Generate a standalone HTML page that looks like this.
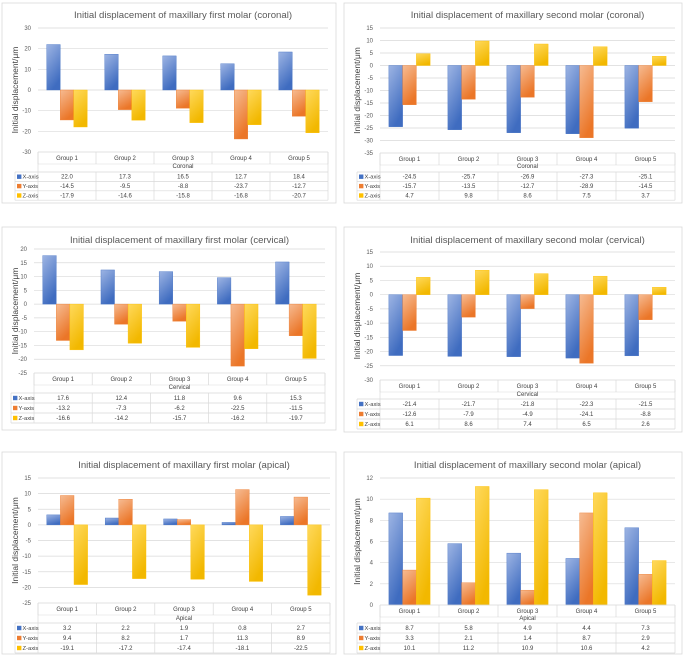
<!DOCTYPE html>
<html><head><meta charset="utf-8"><style>
html,body{margin:0;padding:0;background:#fff;}
svg{display:block;font-family:"Liberation Sans",sans-serif;}
</style></head><body>
<svg id="fig" width="685" height="659" viewBox="0 0 685 659" xmlns="http://www.w3.org/2000/svg">
<defs>
<linearGradient id="gX" x1="0" y1="0" x2="0.4" y2="1"><stop offset="0" stop-color="#9db4e3"/><stop offset="1" stop-color="#3f6cc0"/></linearGradient>
<linearGradient id="gY" x1="0" y1="0" x2="0.4" y2="1"><stop offset="0" stop-color="#f6bb92"/><stop offset="1" stop-color="#eb7628"/></linearGradient>
<linearGradient id="gZ" x1="0" y1="0" x2="0.4" y2="1"><stop offset="0" stop-color="#ffd95c"/><stop offset="1" stop-color="#f2b800"/></linearGradient>
</defs>
</svg>
<script>
const groups = ['Group 1','Group 2','Group 3','Group 4','Group 5'];
const seriesNames = ['X-axis','Y-axis','Z-axis'];
// Panel 1: first molar coronal
const p1X = [22.0,17.3,16.5,12.7,18.4];
const p1Y = [-14.5,-9.5,-8.8,-23.7,-12.7];
const p1Z = [-17.9,-14.6,-15.8,-16.8,-20.7];
const p1Ticks = [30,20,10,0,-10,-20,-30];
// Panel 2: second molar coronal
const p2X = [-24.5,-25.7,-26.9,-27.3,-25.1];
const p2Y = [-15.7,-13.5,-12.7,-28.9,-14.5];
const p2Z = [4.7,9.8,8.6,7.5,3.7];
const p2Ticks = [15,10,5,0,-5,-10,-15,-20,-25,-30,-35];
// Panel 3: first molar cervical
const p3X = [17.6,12.4,11.8,9.6,15.3];
const p3Y = [-13.2,-7.3,-6.2,-22.5,-11.5];
const p3Z = [-16.6,-14.2,-15.7,-16.2,-19.7];
const p3Ticks = [20,15,10,5,0,-5,-10,-15,-20,-25];
// Panel 4: second molar cervical
const p4X = [-21.4,-21.7,-21.8,-22.3,-21.5];
const p4Y = [-12.6,-7.9,-4.9,-24.1,-8.8];
const p4Z = [6.1,8.6,7.4,6.5,2.6];
const p4Ticks = [15,10,5,0,-5,-10,-15,-20,-25,-30];
// Panel 5: first molar apical
const p5X = [3.2,2.2,1.9,0.8,2.7];
const p5Y = [9.4,8.2,1.7,11.3,8.9];
const p5Z = [-19.1,-17.2,-17.4,-18.1,-22.5];
const p5Ticks = [15,10,5,0,-5,-10,-15,-20,-25];
// Panel 6: second molar apical
const p6X = [8.7,5.8,4.9,4.4,7.3];
const p6Y = [3.3,2.1,1.4,8.7,2.9];
const p6Z = [10.1,11.2,10.9,10.6,4.2];
const p6Ticks = [12,10,8,6,4,2,0];

const panels = [
 {name:'first-molar-coronal',title:'Initial displacement of maxillary first molar (coronal)',cat:'Coronal',s:[p1X,p1Y,p1Z],ticks:p1Ticks,b:[2,3,334,200],ty:18,yT:28,yB:152,pL:38,pR:328,catY:168,rT:172,rH:9.4},
 {name:'second-molar-coronal',title:'Initial displacement of maxillary second molar (coronal)',cat:'Coronal',s:[p2X,p2Y,p2Z],ticks:p2Ticks,b:[344,3,338,200],ty:18,yT:28,yB:153,pL:380,pR:675,catY:168,rT:172,rH:9.4},
 {name:'first-molar-cervical',title:'Initial displacement of maxillary first molar (cervical)',cat:'Cervical',s:[p3X,p3Y,p3Z],ticks:p3Ticks,b:[2,227,334,203],ty:243,yT:249,yB:373,pL:34,pR:325,catY:389,rT:393,rH:10},
 {name:'second-molar-cervical',title:'Initial displacement of maxillary second molar (cervical)',cat:'Cervical',s:[p4X,p4Y,p4Z],ticks:p4Ticks,b:[344,227,338,205],ty:243,yT:252,yB:380,pL:380,pR:675,catY:396,rT:399,rH:10},
 {name:'first-molar-apical',title:'Initial displacement of maxillary first molar (apical)',cat:'Apical',s:[p5X,p5Y,p5Z],ticks:p5Ticks,b:[2,452,334,202],ty:468,yT:478,yB:603,pL:38,pR:330,catY:620,rT:623,rH:10},
 {name:'second-molar-apical',title:'Initial displacement of maxillary second molar (apical)',cat:'Apical',s:[p6X,p6Y,p6Z],ticks:p6Ticks,b:[344,452,338,202],ty:468,yT:478,yB:605,pL:380,pR:675,catY:620,rT:623,rH:10}
];
const fills = ['url(#gX)','url(#gY)','url(#gZ)'];
const swatch = ['#4472c4','#ed7d31','#ffc000'];
const NS = 'http://www.w3.org/2000/svg';
const svg = document.getElementById('fig');
function mk(tag, attrs, parent, text){
  const e = document.createElementNS(NS, tag);
  for (const k in attrs) e.setAttribute(k, attrs[k]);
  if (text !== undefined) e.textContent = text;
  parent.appendChild(e);
  return e;
}
panels.forEach(p => {
  const g = mk('g', {}, svg);
  
  
  const border = mk('rect', {x:p.b[0], y:p.b[1], width:p.b[2], height:p.b[3], fill:'#fff', stroke:'#d9d9d9', 'stroke-width':0.8}, g);
  
  
  const cx = (p.pL + p.pR) / 2;
  const t = mk('text', {x:cx, y:p.ty, 'font-size':9.6, fill:'#595959', 'text-anchor':'middle'}, g, p.title);
  
  
  const vMax = p.ticks[0], vMin = p.ticks[p.ticks.length-1];
  const yS = v => p.yT + (vMax - v) / (vMax - vMin) * (p.yB - p.yT);
  p.ticks.forEach(v => {
    const y = yS(v);
    if (v !== vMin) {
      const gl = mk('line', {x1:p.pL, x2:p.pR, y1:y, y2:y, stroke:'#d9d9d9', 'stroke-width':0.7}, g);
      
      
    }
    const tl = mk('text', {x:p.pL-7, y:y+2, 'font-size':6, fill:'#595959', 'text-anchor':'end'}, g, String(v));
    
    
  });
  const yt = mk('text', {x:0, y:0, 'font-size':8.5, fill:'#404040', 'text-anchor':'middle', transform:'translate('+(p.b[0]+16)+','+((p.yT+p.yB)/2)+') rotate(-90)'}, g, 'Initial displacement/μm');
  
  
  const gw = (p.pR - p.pL) / groups.length;
  const bw = gw * 0.233;
  const y0 = yS(0);
  p.s.forEach((vals, si) => {
    vals.forEach((v, gi) => {
      const x = p.pL + gi*gw + gw/2 - 1.5*bw + si*bw;
      const y = Math.min(yS(v), y0), h = Math.abs(yS(v) - y0);
      const r = mk('rect', {x:x, y:y, width:bw, height:h, fill:fills[si], stroke:swatch[si], 'stroke-width':0.4}, g);
      
      
    });
  });
  const lc = '#d9d9d9';
  const legL = p.pL - 23;
  const end = p.rT + 3*p.rH;
  mk('line', {x1:p.pL, x2:p.pR, y1:p.yB, y2:p.yB, stroke:lc, 'stroke-width':0.7}, g);
  mk('line', {x1:p.pL, x2:p.pR, y1:p.yB+12, y2:p.yB+12, stroke:lc, 'stroke-width':0.5}, g);
  for (let i=0;i<=3;i++) mk('line', {x1:legL, x2:p.pR, y1:p.rT+i*p.rH, y2:p.rT+i*p.rH, stroke:lc, 'stroke-width':0.7}, g);
  mk('line', {x1:legL, x2:legL, y1:p.rT, y2:end, stroke:lc, 'stroke-width':0.7}, g);
  for (let i=0;i<=5;i++) {
    const x = p.pL + i*gw;
    mk('line', {x1:x, x2:x, y1:p.yB, y2:p.yB+12, stroke:lc, 'stroke-width':0.7}, g);
    mk('line', {x1:x, x2:x, y1:p.rT, y2:end, stroke:lc, 'stroke-width':0.7}, g);
  }
  mk('line', {x1:p.pL, x2:p.pL, y1:p.yB, y2:p.rT, stroke:lc, 'stroke-width':0.7}, g);
  mk('line', {x1:p.pR, x2:p.pR, y1:p.yB, y2:p.rT, stroke:lc, 'stroke-width':0.7}, g);
  groups.forEach((gn, gi) => {
    const gt = mk('text', {x:p.pL+gi*gw+gw/2, y:p.yB+8, 'font-size':6, fill:'#404040', 'text-anchor':'middle'}, g, gn);
    
    
  });
  const ct = mk('text', {x:cx, y:p.catY, 'font-size':6, fill:'#404040', 'text-anchor':'middle'}, g, p.cat);
  
  
  p.s.forEach((vals, si) => {
    const ry = p.rT + si*p.rH;
    const sw = mk('rect', {x:legL+2, y:ry+p.rH/2-2.2, width:4.4, height:4.4, fill:swatch[si]}, g);
    
    
    const lt = mk('text', {x:legL+7.5, y:ry+p.rH/2+2, 'font-size':5.8, fill:'#404040'}, g, seriesNames[si]);
    
    
    vals.forEach((v, gi) => {
      const vt = mk('text', {x:p.pL+gi*gw+gw/2, y:ry+p.rH/2+2, 'font-size':6, fill:'#404040', 'text-anchor':'middle'}, g, v.toFixed(1));
      
      
    });
  });
});
</script>
</body></html>
